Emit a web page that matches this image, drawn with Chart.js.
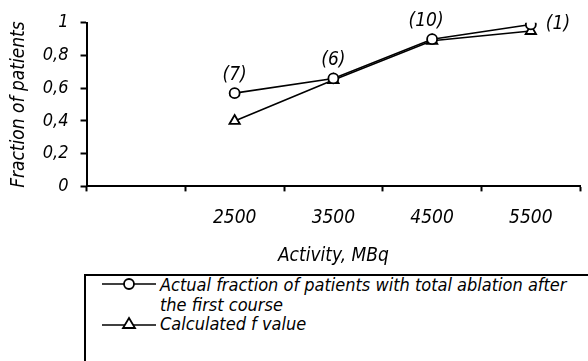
<!DOCTYPE html>
<html lang="en">
<head>
    <meta charset="UTF-8">
    <title>Fraction of patients vs activity</title>
    <script src="https://cdn.jsdelivr.net/npm/chart.js"></script>
    <style>
        html, body { margin: 0; padding: 0; background: #fff; overflow: hidden; }
        body { width: 588px; height: 361px; position: relative; }
        .wrap { position: absolute; left: 0; top: 0; width: 588px; height: 267px; }
        .legend {
            position: absolute; left: 84px; top: 274px; width: 520px; height: 110px;
            border: 2px solid #000; box-sizing: border-box;
            font-family: 'Liberation Sans Narrow', 'DejaVu Sans Condensed', sans-serif;
            font-style: italic; font-size: 18px; line-height: 19.5px; color: #000;
        }
        .row { display: flex; align-items: flex-start; margin-left: 16px; }
        .row svg { flex: none; margin-top: 2px; }
        .row span { width: 422px; margin-left: 4px; }
        .row:first-child { margin-top: -1px; }
    </style>
</head>
<body>
    <div class="wrap"><canvas id="chart"></canvas></div>
    <div class="legend" id="legend"></div>
    <script>
        // data
        const categories = ['', '2500', '3500', '4500', '5500'];
        const actualFraction = [null, 0.57, 0.66, 0.90, 0.99];
        const calculatedF = [null, 0.40, 0.65, 0.89, 0.95];
        const patientCounts = ['', '(7)', '(6)', '(10)', '(1)'];
        const yTickLabels = ['0', '0,2', '0,4', '0,6', '0,8', '1'];
        const seriesNames = ['Actual fraction of patients with total ablation after the first course', 'Calculated f value'];

        const FONT = "'Liberation Sans Narrow', 'DejaVu Sans Condensed', sans-serif";

        // counts in brackets next to the circles
        const countLabels = {
            id: 'countLabels',
            afterDatasetsDraw(chart) {
                const ctx = chart.ctx;
                const meta = chart.getDatasetMeta(0);
                ctx.save();
                ctx.font = 'italic 19px ' + FONT;
                ctx.fillStyle = '#000';
                ctx.textBaseline = 'middle';
                meta.data.forEach((pt, i) => {
                    if (!patientCounts[i]) return;
                    if (i === patientCounts.length - 1) {
                        ctx.textAlign = 'left';
                        ctx.fillText(patientCounts[i], pt.x + 15, pt.y);
                    } else {
                        ctx.textAlign = 'center';
                        ctx.fillText(patientCounts[i], pt.x - (i === 3 ? 6 : 0), pt.y - 18);
                    }
                });
                ctx.restore();
            }
        };

        new Chart(document.getElementById('chart'), {
            type: 'line',
            data: {
                labels: categories,
                datasets: [{
                    label: seriesNames[0],
                    data: actualFraction,
                    borderColor: '#000',
                    borderWidth: 1.6,
                    pointStyle: 'circle',
                    pointRadius: 5,
                    pointBorderWidth: 1.8,
                    pointBackgroundColor: '#fff',
                    pointBorderColor: '#000'
                }, {
                    label: seriesNames[1],
                    data: calculatedF,
                    borderColor: '#000',
                    borderWidth: 1.6,
                    pointStyle: 'triangle',
                    pointRadius: 6,
                    pointBorderWidth: 1.8,
                    pointBackgroundColor: '#fff',
                    pointBorderColor: '#000'
                }]
            },
            options: {
                responsive: true,
                maintainAspectRatio: false,
                animation: false,
                layout: { padding: { top: 3, right: 0, left: 2, bottom: 0 } },
                plugins: {
                    legend: { display: false },
                    tooltip: { enabled: false }
                },
                scales: {
                    x: {
                        offset: true,
                        grid: { display: true, offset: true, drawOnChartArea: false, drawTicks: true, tickLength: 5, tickColor: '#000', tickWidth: 2 },
                        border: { color: '#000', width: 2 },
                        ticks: { color: '#000', font: { family: FONT, size: 19, style: 'italic' }, padding: 15, maxRotation: 0 },
                        title: { display: true, text: 'Activity, MBq', color: '#000', font: { family: FONT, size: 19, style: 'italic' }, padding: { top: 0, bottom: 0 } }
                    },
                    y: {
                        min: 0,
                        max: 1,
                        grid: { display: true, drawOnChartArea: false, drawTicks: true, tickLength: 6, tickColor: '#000', tickWidth: 2 },
                        border: { color: '#000', width: 2 },
                        ticks: {
                            stepSize: 0.2,
                            color: '#000',
                            padding: 12,
                            font: { family: FONT, size: 18, style: 'italic' },
                            callback: (v, i) => yTickLabels[i]
                        },
                        title: { display: true, text: 'Fraction of patients', color: '#000', font: { family: FONT, size: 19, style: 'italic' }, padding: { top: 6, bottom: 0 } }
                    }
                }
            },
            plugins: [countLabels]
        });

        // html legend, wraps like the original
        const markers = [
            '<svg width="54" height="14"><line x1="0" y1="7" x2="54" y2="7" stroke="#000" stroke-width="1.6"/><circle cx="27" cy="7" r="5" fill="#fff" stroke="#000" stroke-width="1.8"/></svg>',
            '<svg width="54" height="14"><line x1="0" y1="9" x2="54" y2="9" stroke="#000" stroke-width="1.6"/><polygon points="27,2 33,12 21,12" fill="#fff" stroke="#000" stroke-width="1.8"/></svg>'
        ];
        document.getElementById('legend').innerHTML = seriesNames.map((name, i) =>
            '<div class="row">' + markers[i] + '<span>' + name + '</span></div>').join('');
    </script>
</body>
</html>
